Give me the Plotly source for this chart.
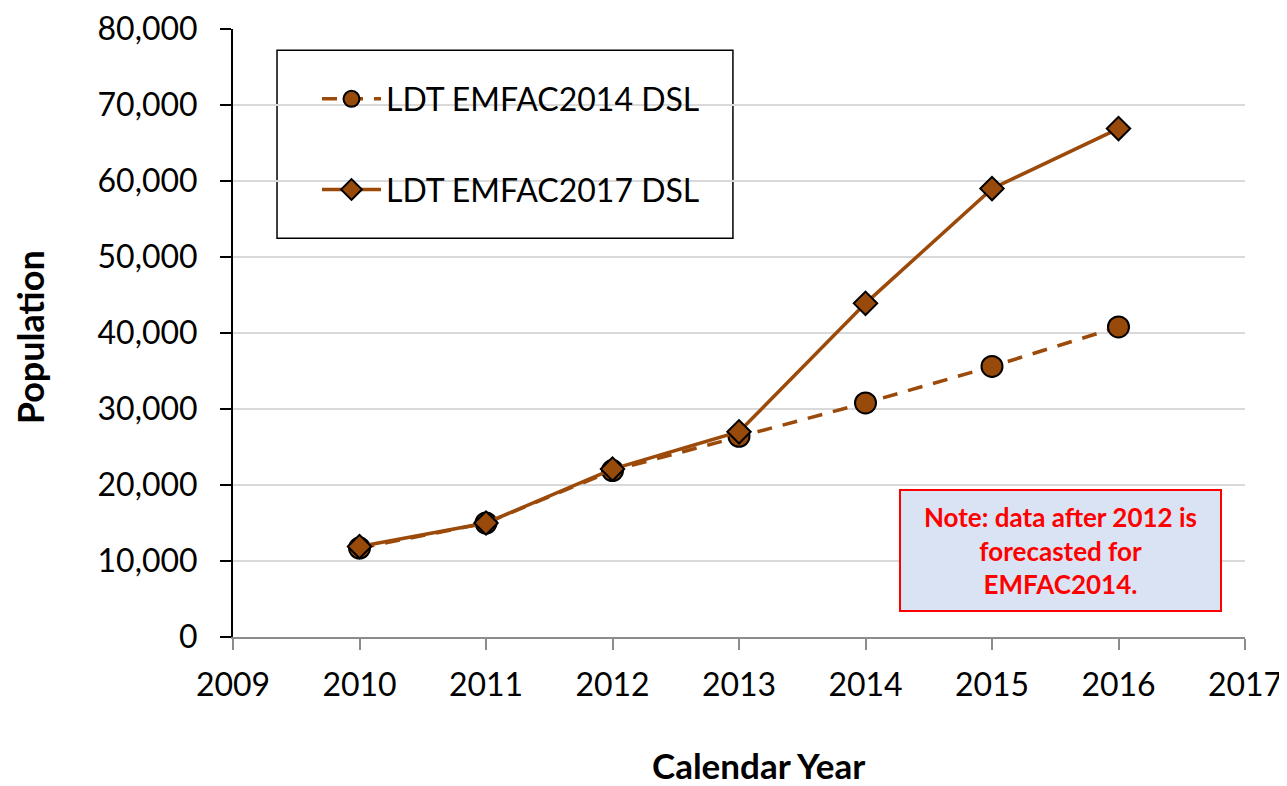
import plotly.graph_objects as go

years = [2010, 2011, 2012, 2013, 2014, 2015, 2016]
emfac2014 = [11700, 15000, 21900, 26400, 30800, 35600, 40800]
emfac2017 = [11900, 15000, 22100, 27000, 43900, 59000, 66900]
y_ticks = [0, 10000, 20000, 30000, 40000, 50000, 60000, 70000, 80000]
x_ticks = [2009, 2010, 2011, 2012, 2013, 2014, 2015, 2016, 2017]

brown = "#9C4A0A"
fill = "#984A0A"
font_family = "Lato, 'Open Sans', sans-serif"

fig = go.Figure()
fig.add_trace(go.Scatter(
    x=years, y=emfac2014, name="LDT EMFAC2014 DSL", mode="lines+markers",
    legendgroup="a",
    line=dict(color=brown, width=3.5, dash="15px,11px"),
    marker=dict(symbol="circle", size=21, color=fill, line=dict(color="black", width=2)),
))
fig.add_trace(go.Scatter(
    x=years, y=emfac2017, name="LDT EMFAC2017 DSL", mode="lines+markers",
    legendgroup="b",
    line=dict(color=brown, width=3.5),
    marker=dict(symbol="diamond", size=18, color=fill, line=dict(color="black", width=2)),
))

# Note box
fig.add_annotation(
    x=0.8177, y=0.143, xref="paper", yref="paper", xanchor="center", yanchor="middle",
    text="<b>Note: data after 2012 is<br>forecasted for<br>EMFAC2014.</b>",
    showarrow=False, align="center",
    font=dict(family=font_family, size=26, color="#FF0000"),
    bgcolor="#DAE3F3", bordercolor="#FF0000", borderwidth=2,
    width=317, height=117,
)

# Axis titles
fig.add_annotation(
    x=0.519, y=-0.2105, xref="paper", yref="paper", xanchor="center", yanchor="middle",
    text="<b>Calendar Year</b>", showarrow=False,
    font=dict(family=font_family, size=35, color="black"),
)
fig.add_annotation(
    x=-0.2006, y=0.493, xref="paper", yref="paper", xanchor="center", yanchor="middle",
    text="<b>Population</b>", showarrow=False, textangle=-90,
    font=dict(family=font_family, size=36, color="black"),
)

# Legend frame
fig.add_shape(
    type="rect", xref="paper", yref="paper",
    x0=0.0435, x1=0.494, y0=0.656, y1=0.965,
    line=dict(color="black", width=1.5), fillcolor="white", layer="below",
)

fig.update_layout(
    width=1287, height=786,
    paper_bgcolor="white", plot_bgcolor="white",
    margin=dict(l=225, r=50, t=21, b=157, autoexpand=False),
    font=dict(family=font_family, size=32, color="black"),
    showlegend=True,
    legend=dict(
        x=0.083, y=0.93, xanchor="left", yanchor="top",
        borderwidth=0, bgcolor="rgba(0,0,0,0)",
        font=dict(size=32, family=font_family),
        tracegroupgap=46, itemwidth=59,
    ),
    xaxis=dict(
        range=[2009, 2017], tickvals=x_ticks, ticktext=[str(v) for v in x_ticks],
        showgrid=False, showline=True, linecolor="#8C8C8C", linewidth=2,
        ticks="outside", ticklen=11, tickcolor="#8C8C8C", tickwidth=2,
        tickfont=dict(size=32), zeroline=False, automargin=False,
        ticklabelstandoff=8,
    ),
    yaxis=dict(
        range=[0, 80000], tickvals=y_ticks,
        ticktext=[f"{v:,}" for v in y_ticks],
        showgrid=True, gridcolor="#D9D9D9", gridwidth=2,
        showline=True, linecolor="black", linewidth=2,
        ticks="outside", ticklen=11, tickcolor="black", tickwidth=2,
        tickfont=dict(size=32), zeroline=False, automargin=False,
        ticklabelstandoff=16,
    ),
)

fig.write_html("out.html")
